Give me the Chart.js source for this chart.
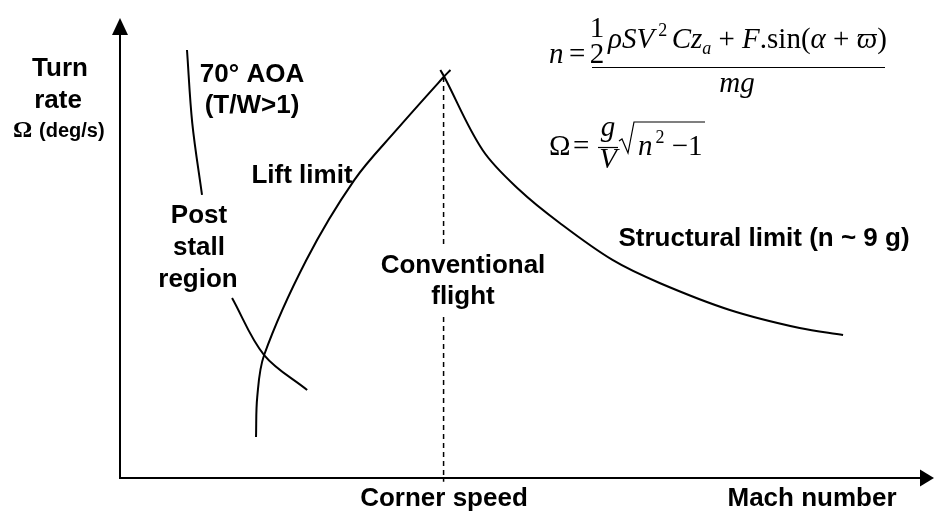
<!DOCTYPE html>
<html><head><meta charset="utf-8">
<script src="https://cdn.jsdelivr.net/npm/chart.js@4/dist/chart.umd.min.js"></script>
<style>html,body{margin:0;padding:0;background:#fff}canvas{display:block}</style>
</head><body>
<canvas id="c" width="935" height="514"></canvas>
<script>
// Values (x: Mach number, arbitrary 0..2 ; y: turn rate, arbitrary 0..30 deg/s)
const liftMach   = [0.335, 0.338, 0.355, 0.459, 0.577, 0.681, 0.797, 0.814];
const liftRate   = [2.67, 5.28, 8.02, 14.22, 19.43, 22.70, 26.15, 26.61];
const structMach = [0.789, 0.799, 0.893, 0.984, 1.083, 1.213, 1.329, 1.502, 1.674, 1.781];
const structRate = [26.61, 26.15, 21.39, 18.78, 16.63, 14.22, 12.72, 10.96, 9.78, 9.33];
const stallMach  = [0.165, 0.178, 0.202, null, 0.276, 0.355, 0.461];
const stallRate  = [27.91, 23.15, 18.46, null, 11.74, 8.02, 5.74];
const cornerMach = [0.797, 0.797, null, 0.797, 0.797];
const cornerRate = [26.15, 15.2, null, 10.5, -0.25];
const axisMax = {mach: 2, rate: 30};

function pts(xs, ys){
  let last = 0;
  return xs.map((x,i)=>{ if(x===null||ys[i]===null) return {x:last, y:null}; last=x; return {x:x, y:ys[i]}; });
}

const SANS = '"Liberation Sans", Arial, sans-serif';
const SERIF = '"Liberation Serif", "Times New Roman", serif';

const overlay = {
  id: 'overlay',
  afterDatasetsDraw(chart){
    const {ctx, scales:{x, y}} = chart;
    const x0 = x.getPixelForValue(0), y0 = y.getPixelForValue(0);
    const yTop = y.getPixelForValue(axisMax.rate), xEnd = x.getPixelForValue(axisMax.mach);
    ctx.save();
    ctx.strokeStyle = '#000'; ctx.fillStyle = '#000'; ctx.lineWidth = 2;
    ctx.beginPath();
    ctx.moveTo(x0, y0); ctx.lineTo(x0, yTop + 14);
    ctx.moveTo(x0 - 1, y0); ctx.lineTo(xEnd - 8, y0);
    ctx.stroke();
    ctx.beginPath(); ctx.moveTo(x0, yTop); ctx.lineTo(x0 - 8, yTop + 17); ctx.lineTo(x0 + 8, yTop + 17); ctx.closePath(); ctx.fill();
    ctx.beginPath(); ctx.moveTo(xEnd + 2, y0); ctx.lineTo(xEnd - 12, y0 - 8.5); ctx.lineTo(xEnd - 12, y0 + 8.5); ctx.closePath(); ctx.fill();

    const txt = (s, px, py, font, align) => { ctx.font = font; ctx.textAlign = align || 'center'; ctx.textBaseline = 'alphabetic'; ctx.fillText(s, px, py); };
    const B = 'bold 26px ' + SANS;
    txt('Turn', 60, 76, B); txt('rate', 58, 108, B);
    txt('Ω', 13, 137, 'bold 24px ' + SERIF, 'left');
    txt('(deg/s)', 39, 137, 'bold 20px ' + SANS, 'left');
    txt('70° AOA', 252, 82, B); txt('(T/W>1)', 252, 113, B);
    txt('Lift limit', 302, 183, B);
    txt('Post', 199, 223, B); txt('stall', 199, 255, B); txt('region', 198, 287, B);
    txt('Conventional', 463, 273, B); txt('flight', 463, 304, B);
    txt('Structural limit (n ~ 9 g)', 764, 246, B);
    txt('Corner speed', 444, 506, B);
    txt('Mach number', 812, 506, B);

    // formulas
    const I = 'italic 29px ' + SERIF, R = '29px ' + SERIF, S = '18px ' + SERIF, SI = 'italic 18px ' + SERIF;
    const run = (sx, by, parts) => {
      let cx = sx;
      parts.forEach(p => { ctx.font = p[1]; ctx.textAlign = 'left'; ctx.fillText(p[0], cx + (p[3] || 0), by + (p[2] || 0)); cx += ctx.measureText(p[0]).width + (p[3] || 0); });
      return cx;
    };
    run(608, 48, [['ρ',I],['SV',I],['2',S,-12,4],[' ',S],['C',I],['z',I],['a',SI,6],[' + ',R],['F',I],['.sin(',R],['α',I],[' + ',R],['ϖ',I],[')',R]]);
    txt('1', 597, 37, R); txt('2', 597, 63, R);
    txt('n', 549, 63, I, 'left');
    txt('=', 569, 63, R, 'left');
    ctx.lineWidth = 1.2;
    ctx.beginPath(); ctx.moveTo(592, 67.5); ctx.lineTo(885, 67.5); ctx.stroke();
    txt('mg', 737, 92, I);
    txt('Ω', 549, 155, R, 'left');
    txt('=', 573, 155, R, 'left');
    txt('g', 608, 136, I);
    ctx.beginPath(); ctx.moveTo(598, 147.5); ctx.lineTo(618, 147.5); ctx.stroke();
    txt('V', 608, 168, I);
    ctx.beginPath(); ctx.moveTo(619, 141); ctx.lineTo(622, 139); ctx.lineTo(628, 153); ctx.lineTo(634, 122); ctx.lineTo(705, 122); ctx.stroke();
    run(638, 155, [['n',I],['2',S,-12,3],[' −1',R]]);
    ctx.restore();
  }
};

const lineDs = (data, extra) => Object.assign({
  data: data, showLine: true, borderColor: '#000', borderWidth: 2, pointRadius: 0,
  tension: 0.35, spanGaps: false, fill: false, clip: false
}, extra || {});

new Chart(document.getElementById('c'), {
  type: 'scatter',
  data: {
    datasets: [
      lineDs(pts(liftMach, liftRate)),
      lineDs(pts(structMach, structRate)),
      lineDs(pts(stallMach, stallRate)),
      lineDs(pts(cornerMach, cornerRate), {borderWidth: 1.5, borderDash: [5, 4], tension: 0})
    ]
  },
  options: {
    responsive: false, animation: false, devicePixelRatio: 1,
    layout: {padding: {left: 120, right: 3, top: 18, bottom: 36}},
    plugins: {legend: {display: false}, tooltip: {enabled: false}},
    scales: {
      x: {type: 'linear', display: false, min: 0, max: axisMax.mach},
      y: {type: 'linear', display: false, min: 0, max: axisMax.rate}
    }
  },
  plugins: [overlay]
});
</script>
</body></html>
